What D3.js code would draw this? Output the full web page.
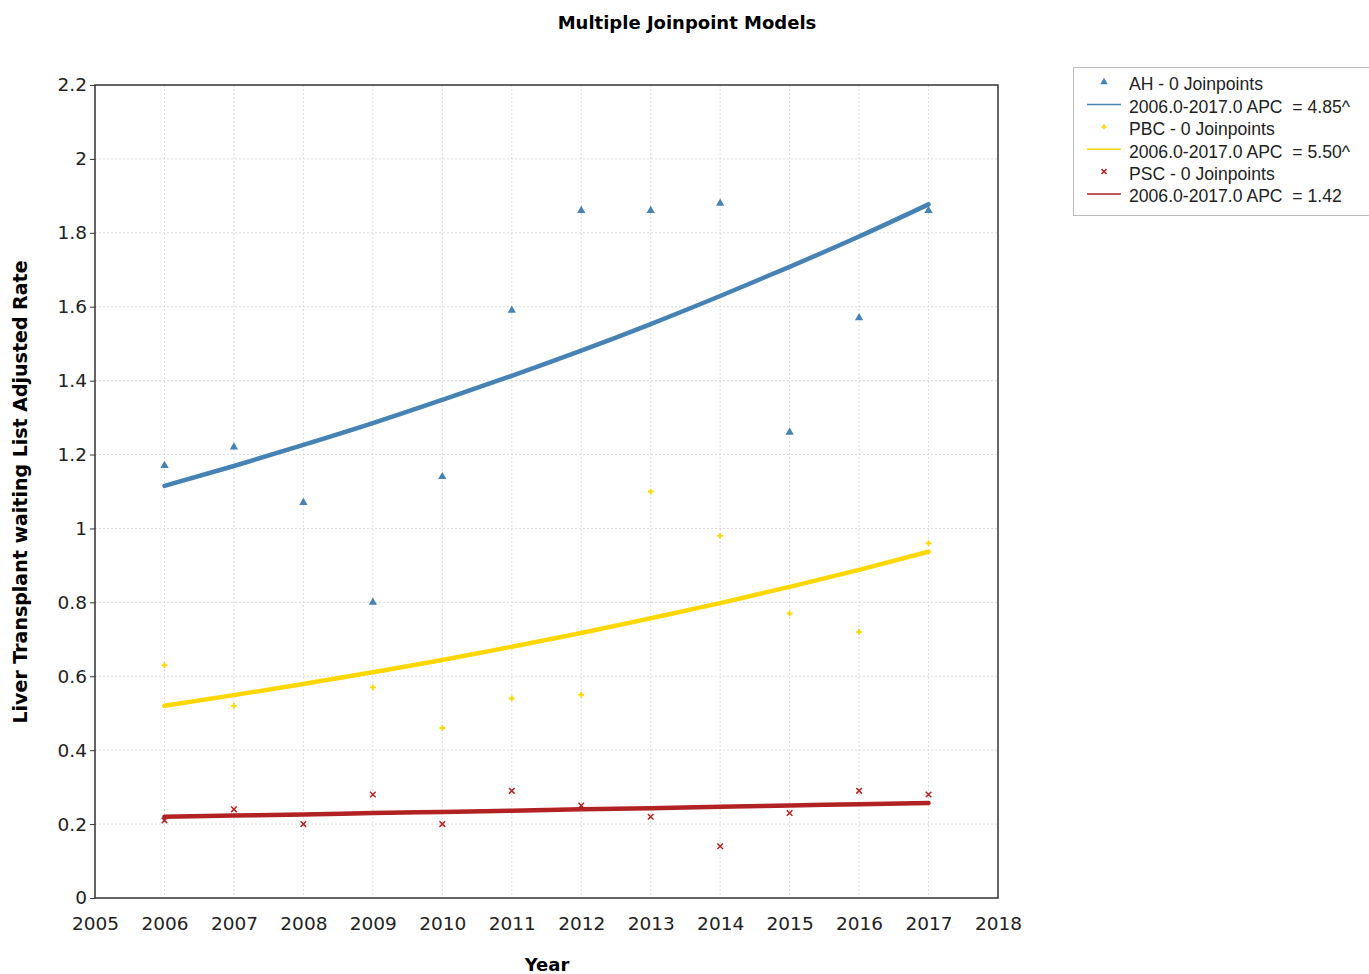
<!DOCTYPE html>
<html><head><meta charset="utf-8">
<script src="https://cdn.jsdelivr.net/npm/d3@7"></script>
<style>body{margin:0;background:#fff}svg{display:block}</style>
</head><body>
<svg id="c" width="1369" height="974"></svg>
<script>
const years = [2006,2007,2008,2009,2010,2011,2012,2013,2014,2015,2016,2017];
const ahObs  = [1.17,1.22,1.07,0.80,1.14,1.59,1.86,1.86,1.88,1.26,1.57,1.86];
const ahFit  = [1.115,1.169,1.226,1.285,1.348,1.413,1.481,1.553,1.629,1.708,1.790,1.877];
const pbcObs = [0.63,0.52,null,0.57,0.46,0.54,0.55,1.10,0.98,0.77,0.72,0.96];
const pbcFit = [0.520,0.549,0.579,0.611,0.644,0.680,0.717,0.757,0.798,0.842,0.888,0.937];
const pscObs = [0.21,0.24,0.20,0.28,0.20,0.29,0.25,0.22,0.14,0.23,0.29,0.28];
const pscFit = [0.220,0.223,0.226,0.230,0.233,0.236,0.240,0.243,0.247,0.250,0.254,0.257];
const xTicks = [2005,2006,2007,2008,2009,2010,2011,2012,2013,2014,2015,2016,2017,2018];
const yTicks = [0,0.2,0.4,0.6,0.8,1,1.2,1.4,1.6,1.8,2,2.2];
const legendLabels = ["AH - 0 Joinpoints","2006.0-2017.0 APC  = 4.85^","PBC - 0 Joinpoints","2006.0-2017.0 APC  = 5.50^","PSC - 0 Joinpoints","2006.0-2017.0 APC  = 1.42"];
const colors = {ah:"#4682B4", pbc:"#FFD700", psc:"#B22222"};

const svg = d3.select("#c");
const L=95,R=998,T=85,B=898;
const x = d3.scaleLinear().domain([2005,2018]).range([L,R]);
const y = d3.scaleLinear().domain([0,2.2]).range([B,T]);

// grid
svg.append("g").selectAll("line").data(xTicks.slice(1,-1)).join("line")
  .attr("x1",d=>x(d)).attr("x2",d=>x(d)).attr("y1",T).attr("y2",B)
  .attr("stroke","#dcdcdc").attr("stroke-dasharray","2,2");
svg.append("g").selectAll("line").data(yTicks.slice(1,-1)).join("line")
  .attr("y1",d=>y(d)).attr("y2",d=>y(d)).attr("x1",L).attr("x2",R)
  .attr("stroke","#dcdcdc").attr("stroke-dasharray","2,2");

// axes
const fmtY = d=> d===0?"0":(d%1===0?String(d):d3.format(".1f")(d));
const ya = svg.append("g").attr("transform",`translate(${L},0)`)
  .call(d3.axisLeft(y).tickValues(yTicks).tickFormat(fmtY).tickSize(5).tickPadding(3));
ya.select(".domain").remove();
ya.selectAll("text").attr("font-family","DejaVu Sans").attr("font-size","18.5px").attr("fill","#222");
ya.selectAll("line").attr("stroke","#333");
const xa = svg.append("g").attr("transform",`translate(0,${B})`)
  .call(d3.axisBottom(x).tickValues(xTicks).tickFormat(d3.format("d")).tickSize(0).tickPadding(19));
xa.select(".domain").remove();
xa.selectAll("text").attr("font-family","DejaVu Sans").attr("font-size","18.5px").attr("fill","#222");

svg.append("rect").attr("x",L).attr("y",T).attr("width",R-L).attr("height",B-T)
  .attr("fill","none").attr("stroke","#333").attr("stroke-width",1.5);

// titles
svg.append("text").attr("x",687).attr("y",29).attr("text-anchor","middle")
  .attr("font-family","DejaVu Sans").attr("font-weight","bold").attr("font-size","18px").text("Multiple Joinpoint Models");
svg.append("text").attr("x",547).attr("y",971).attr("text-anchor","middle")
  .attr("font-family","DejaVu Sans").attr("font-weight","bold").attr("font-size","18px").text("Year");
svg.append("text").attr("transform","translate(27,492) rotate(-90)").attr("text-anchor","middle")
  .attr("font-family","DejaVu Sans").attr("font-weight","bold").attr("font-size","19px")
  .text("Liver Transplant waiting List Adjusted Rate");

// series
const line = d3.line().x((d,i)=>x(years[i])).y(d=>y(d)).curve(d3.curveMonotoneX);
const series = [
  {key:"ah", obs:ahObs, fit:ahFit, sym:d3.symbolTriangle, size:30},
  {key:"pbc", obs:pbcObs, fit:pbcFit, sym:d3.symbolCross, size:18},
  {key:"psc", obs:pscObs, fit:pscFit, sym:d3.symbolX, size:22},
];
series.forEach(s=>{
  svg.append("path").datum(s.fit).attr("d",line).attr("fill","none")
    .attr("stroke",colors[s.key]).attr("stroke-width",4.5).attr("stroke-linecap","round");
});
series.forEach(s=>{
  const pts = s.obs.map((v,i)=>({v,yr:years[i]})).filter(d=>d.v!=null);
  const g = svg.append("g");
  pts.forEach(p=>{
    const path = g.append("path").attr("d",d3.symbol(s.sym,s.size)())
      .attr("transform",`translate(${x(p.yr)},${y(p.v)})`);
    if(s.key==="psc") path.attr("fill","none").attr("stroke",colors[s.key]).attr("stroke-width",1.5);
    else path.attr("fill",colors[s.key]);
  });
});

// legend
const lg = svg.append("g");
lg.append("rect").attr("x",1073.5).attr("y",67.5).attr("width",310).attr("height",148)
  .attr("fill","#fff").attr("stroke","#bbb").attr("stroke-width",1);
const rowY = i=>84+i*22.4;
legendLabels.forEach((t,i)=>{
  lg.append("text").attr("x",1129).attr("y",rowY(i)).attr("dy","0.36em")
    .attr("font-family","Liberation Sans, Arial").attr("font-size","17.6px").attr("fill","#222")
    .style("white-space","pre").text(t);
});
series.forEach((s,k)=>{
  const p = lg.append("path").attr("d",d3.symbol(s.sym,s.size*0.8)())
    .attr("transform",`translate(1104,${rowY(2*k)-2})`);
  if(s.key==="psc") p.attr("fill","none").attr("stroke",colors[s.key]).attr("stroke-width",1.5);
  else p.attr("fill",colors[s.key]);
  lg.append("line").attr("x1",1087).attr("x2",1121).attr("y1",rowY(2*k+1)-2).attr("y2",rowY(2*k+1)-2)
    .attr("stroke",colors[s.key]).attr("stroke-width",1.5);
});
</script>
</body></html>
